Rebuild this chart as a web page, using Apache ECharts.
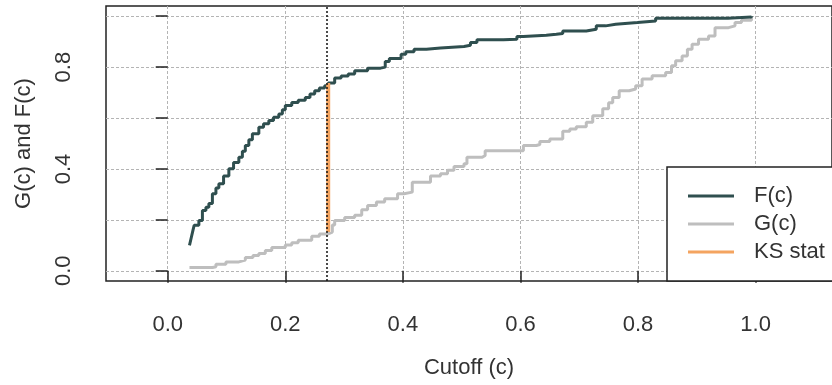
<!DOCTYPE html>
<html>
<head>
<meta charset="utf-8">
<script src="https://cdn.jsdelivr.net/npm/echarts@6/dist/echarts.min.js"></script>
<style>
  html, body { margin: 0; padding: 0; background: #fff; }
  #chart { width: 832px; height: 385px; }
</style>
</head>
<body>
<div id="chart"></div>
<script>
// Empirical CDFs of the two score groups, F(c) and G(c), sampled at step corners
const fX = [0.037, 0.040, 0.043, 0.045, 0.053, 0.059, 0.065, 0.070, 0.076, 0.082, 0.087, 0.095, 0.104, 0.112,
  0.121, 0.127, 0.132, 0.138, 0.144, 0.155, 0.163, 0.172, 0.180, 0.189, 0.195, 0.200, 0.211, 0.222, 0.234,
  0.242, 0.250, 0.258, 0.267, 0.273, 0.284, 0.295, 0.307, 0.318, 0.340, 0.362, 0.370, 0.377, 0.397, 0.405,
  0.419, 0.440, 0.464, 0.504, 0.515, 0.526, 0.571, 0.594, 0.605, 0.644, 0.661, 0.672, 0.712, 0.729, 0.745,
  0.762, 0.799, 0.830, 0.953, 0.993];
const fY = [0.100, 0.130, 0.160, 0.179, 0.198, 0.237, 0.250, 0.264, 0.303, 0.325, 0.342, 0.372, 0.401, 0.425,
  0.446, 0.470, 0.492, 0.515, 0.538, 0.564, 0.578, 0.590, 0.603, 0.616, 0.633, 0.649, 0.661, 0.670, 0.681,
  0.694, 0.707, 0.718, 0.727, 0.738, 0.757, 0.765, 0.773, 0.786, 0.796, 0.800, 0.822, 0.834, 0.851, 0.860,
  0.870, 0.875, 0.881, 0.886, 0.897, 0.907, 0.909, 0.920, 0.925, 0.929, 0.932, 0.942, 0.949, 0.962, 0.968,
  0.975, 0.981, 0.992, 0.997, 1.000];

const gX = [0.037, 0.076, 0.082, 0.099, 0.121, 0.132, 0.145, 0.155, 0.166, 0.177, 0.200, 0.211, 0.222, 0.245,
  0.258, 0.273, 0.280, 0.284, 0.301, 0.318, 0.330, 0.340, 0.355, 0.369, 0.391, 0.402, 0.416, 0.447, 0.464,
  0.476, 0.487, 0.504, 0.509, 0.535, 0.540, 0.605, 0.627, 0.633, 0.650, 0.672, 0.684, 0.695, 0.712, 0.723,
  0.740, 0.750, 0.757, 0.768, 0.785, 0.796, 0.807, 0.824, 0.847, 0.857, 0.864, 0.875, 0.884, 0.892, 0.903,
  0.920, 0.931, 0.954, 0.965, 0.976, 0.993];
const gY = [0.013, 0.016, 0.026, 0.035, 0.042, 0.052, 0.060, 0.068, 0.080, 0.092, 0.101, 0.110, 0.120, 0.136,
  0.145, 0.152, 0.180, 0.198, 0.209, 0.218, 0.240, 0.257, 0.270, 0.283, 0.303, 0.309, 0.348, 0.372, 0.381,
  0.395, 0.410, 0.420, 0.446, 0.453, 0.472, 0.492, 0.496, 0.508, 0.518, 0.548, 0.557, 0.566, 0.583, 0.609,
  0.636, 0.660, 0.681, 0.707, 0.714, 0.727, 0.753, 0.766, 0.779, 0.805, 0.825, 0.844, 0.870, 0.890, 0.909,
  0.922, 0.955, 0.962, 0.975, 0.984, 1.000];

// Kolmogorov-Smirnov statistic: largest vertical gap between F and G
const ksX = 0.273;
const ksLow = 0.152;
const ksHigh = 0.738;

// Axis ranges, ticks and labels
const xRange = [-0.105, 1.13];
const yRange = [-0.04, 1.04];
const xTicks = [0, 0.2, 0.4, 0.6, 0.8, 1.0];
const yTicks = [0, 0.2, 0.4, 0.6, 0.8, 1.0];
const yLabels = [0, 0.4, 0.8];

const seriesNames = ['F(c)', 'G(c)', 'KS stat'];
const colors = { F: '#2F4F4F', G: '#BEBEBE', KS: '#F4A460' };

const pairs = (xs, ys) => xs.map((x, i) => [x, ys[i]]);

const FONT = 'Liberation Sans, Arial, sans-serif';
const TEXT = '#333';

const chart = echarts.init(document.getElementById('chart'), null, { renderer: 'canvas' });

const gridDots = { color: '#b4b4b4', width: 1, type: [3, 2] };

chart.setOption({
  animation: false,
  backgroundColor: '#fff',
  textStyle: { fontFamily: FONT },
  grid: {
    left: 106, top: 6, width: 732, height: 275,
    show: true, borderColor: '#222', borderWidth: 1.5, backgroundColor: 'transparent'
  },
  xAxis: {
    type: 'value',
    min: xRange[0], max: xRange[1],
    name: 'Cutoff (c)',
    nameLocation: 'middle',
    nameGap: 76,
    nameTextStyle: { fontSize: 22, color: TEXT, fontFamily: FONT },
    axisLine: { show: false },
    axisTick: { show: true, length: 12, customValues: xTicks, lineStyle: { color: '#222', width: 1.5 } },
    axisLabel: {
      customValues: xTicks, margin: 33, fontSize: 22, color: TEXT, fontFamily: FONT,
      formatter: v => v.toFixed(1)
    },
    splitLine: { show: true, lineStyle: gridDots }
  },
  yAxis: {
    type: 'value',
    min: yRange[0], max: yRange[1],
    name: 'G(c) and F(c)',
    nameLocation: 'middle',
    nameGap: 71,
    nameTextStyle: { fontSize: 22, color: TEXT, fontFamily: FONT },
    axisLine: { show: false },
    axisTick: { show: true, length: 12, customValues: yTicks, lineStyle: { color: '#222', width: 1.5 } },
    axisLabel: {
      customValues: yLabels, rotate: 90, margin: 31, fontSize: 22, color: TEXT, fontFamily: FONT,
      formatter: v => v.toFixed(1)
    },
    splitLine: { show: true, lineStyle: gridDots }
  },
  legend: {
    data: seriesNames,
    orient: 'vertical',
    left: 667, top: 167,
    padding: [18, 30, 18, 21],
    itemGap: 6,
    icon: 'rect',
    itemWidth: 46, itemHeight: 3,
    backgroundColor: '#fff',
    borderColor: '#222', borderWidth: 1.5, borderRadius: 0,
    textStyle: { fontSize: 22, color: TEXT, fontFamily: FONT, padding: [0, 0, 0, 15] }
  },
  series: [
    {
      name: 'F(c)', type: 'line', step: 'end', showSymbol: false, symbol: 'none',
      data: pairs(fX, fY),
      lineStyle: { color: colors.F, width: 3 }, itemStyle: { color: colors.F }, z: 3
    },
    {
      name: 'G(c)', type: 'line', step: 'end', showSymbol: false, symbol: 'none',
      data: pairs(gX, gY),
      lineStyle: { color: colors.G, width: 3 }, itemStyle: { color: colors.G }, z: 2
    },
    {
      name: 'KS stat', type: 'line', showSymbol: false, symbol: 'none',
      data: [[ksX, ksLow], [ksX, ksHigh]],
      lineStyle: { color: colors.KS, width: 4 }, itemStyle: { color: colors.KS }, z: 4,
      markLine: {
        silent: true, symbol: 'none', label: { show: false },
        lineStyle: { color: '#111', width: 1.5, type: [2, 2] },
        data: [{ xAxis: ksX }]
      }
    }
  ]
});
</script>
</body>
</html>
